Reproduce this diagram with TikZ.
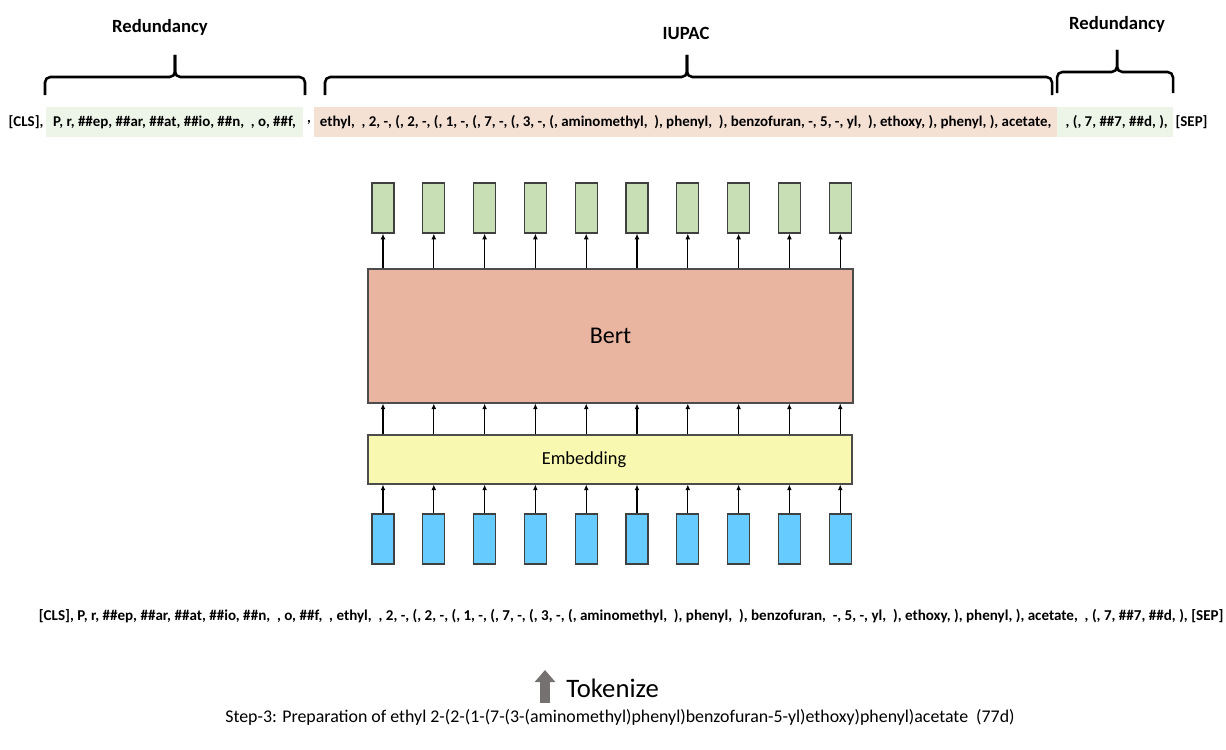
\documentclass[tikz,border=0pt]{standalone}
\usepackage{fontspec}
\setmainfont{Carlito}
\usepackage{xcolor}
\usetikzlibrary{arrows.meta,positioning}
\definecolor{outgreen}{RGB}{200,222,180}
\definecolor{inblue}{RGB}{102,204,255}
\definecolor{bertred}{RGB}{233,181,160}
\definecolor{embyellow}{RGB}{248,248,176}
\definecolor{tokgreen}{RGB}{237,245,232}
\definecolor{toksalmon}{RGB}{245,224,212}
\definecolor{tokgray}{RGB}{118,113,113}

\begin{document}
\begin{tikzpicture}[
  x=0.75pt,y=-0.75pt,
  tok/.style={inner sep=0pt,font=\fontsize{11.2}{13}\selectfont\bfseries},
  tokbg/.style={tok,minimum height=22.5pt},
  lbl/.style={inner sep=0pt,font=\fontsize{14}{16}\selectfont\bfseries},
  brc/.style={line width=1.9pt,rounded corners=4pt},
  vec/.style={draw=black!75,line width=0.9pt,minimum width=16.5pt,minimum height=37.5pt,inner sep=0pt},
  layer/.style={draw=black!70,line width=0.8pt,inner sep=0pt},
  arr/.style={-{Latex[length=1.5mm,width=1.3mm]},line width=0.9pt}
]
\useasboundingbox (0,0) rectangle (1226,749);
% labels and braces
\node[lbl] (redA) at (160,27) {Redundancy};
\node[lbl] (iupac) at (686,33) {IUPAC};
\node[lbl] (redB) at (1117,24) {Redundancy};
\draw[brc] (45,95) -- (45,77) -- (175,77) -- (175,55);
\draw[brc] (305,95) -- (305,77) -- (175,77) -- (175,55);
\draw[brc] (325,95) -- (325,77) -- (687,77) -- (687,55);
\draw[brc] (1052,95) -- (1052,77) -- (687,77) -- (687,55);
\draw[brc] (1057,93) -- (1057,72) -- (1117,72) -- (1117,50);
\draw[brc] (1173,93) -- (1173,72) -- (1117,72) -- (1117,50);
% tokens, top line
\node[tokbg,fill=tokgreen,minimum width=192.75pt] (grnA) at (174.5,122) {P, r, \#\#ep, \#\#ar, \#\#at, \#\#io, \#\#n,~~, o, \#\#f,};
\node[tok,left=1.5pt of grnA] (cls) {[CLS],};
\node[tokbg,fill=toksalmon,minimum width=557.25pt] (salA) at (685.5,122) {ethyl,~~, 2, -, (, 2, -, (, 1, -, (, 7, -, (, 3, -, (, aminomethyl,~~), phenyl,~~), benzofuran, -, 5, -, yl,~~), ethoxy, ), phenyl, ), acetate,};
\node[tok] (cma) at (309,122) {,};
\node[tokbg,fill=tokgreen,minimum width=87pt] (grnB) at (1115,122) {~, (, 7, \#\#7, \#\#d, ),};
\node[tok,right=1.5pt of grnB] (sep) {[SEP]};
% model
\foreach \i in {0,...,9}{
  \node[vec,fill=outgreen] (out\i) at (383+50.8*\i,208) {};
  \node[vec,fill=inblue] (in\i) at (383+50.8*\i,539) {};
}
\node[layer,fill=bertred,minimum width=363.75pt,minimum height=100.5pt,font=\fontsize{18}{20}\selectfont] (bert) at (610.5,336) {Bert};
\node[layer,fill=embyellow,minimum width=363pt,minimum height=36.75pt] (emb) at (610,459.5) {};
\node[inner sep=0pt,font=\fontsize{13.8}{15}\selectfont] (embtxt) at ([xshift=-19.5pt]emb.center) {Embedding};
\foreach \i in {0,...,9}{
  \draw[arr] (in\i.north) -- (emb.south -| in\i);
  \draw[arr] (emb.north -| in\i) -- (bert.south -| in\i);
  \draw[arr] (bert.north -| out\i) -- (out\i.south);
}
% tokens, bottom line
\node[tok,font=\fontsize{11.3}{13}\selectfont\bfseries] (toks) at (631,616) {[CLS], P, r, \#\#ep, \#\#ar, \#\#at, \#\#io, \#\#n,~~, o, \#\#f,~~, ethyl,~~, 2, -, (, 2, -, (, 1, -, (, 7, -, (, 3, -, (, aminomethyl,~~), phenyl,~~), benzofuran,~~-, 5, -, yl,~~), ethoxy, ), phenyl, ), acetate,~~, (, 7, \#\#7, \#\#d, ), [SEP]};
% tokenize
\node[inner sep=0pt,anchor=west,font=\fontsize{20}{22}\selectfont] (tkz) at (566,688) {Tokenize};
\coordinate (tkb) at (545,703);
\coordinate (tkt) at (545,670);
\draw[tokgray,line width=7.5pt,-{Triangle[width=15pt,length=9pt]}] (tkb) -- (tkt);
\node[inner sep=0pt,font=\fontsize{13.4}{15}\selectfont] (cap) at (620,717) {Step-3: Preparation of ethyl 2-(2-(1-(7-(3-(aminomethyl)phenyl)benzofuran-5-yl)ethoxy)phenyl)acetate~~(77d)};
\end{tikzpicture}
\end{document}
